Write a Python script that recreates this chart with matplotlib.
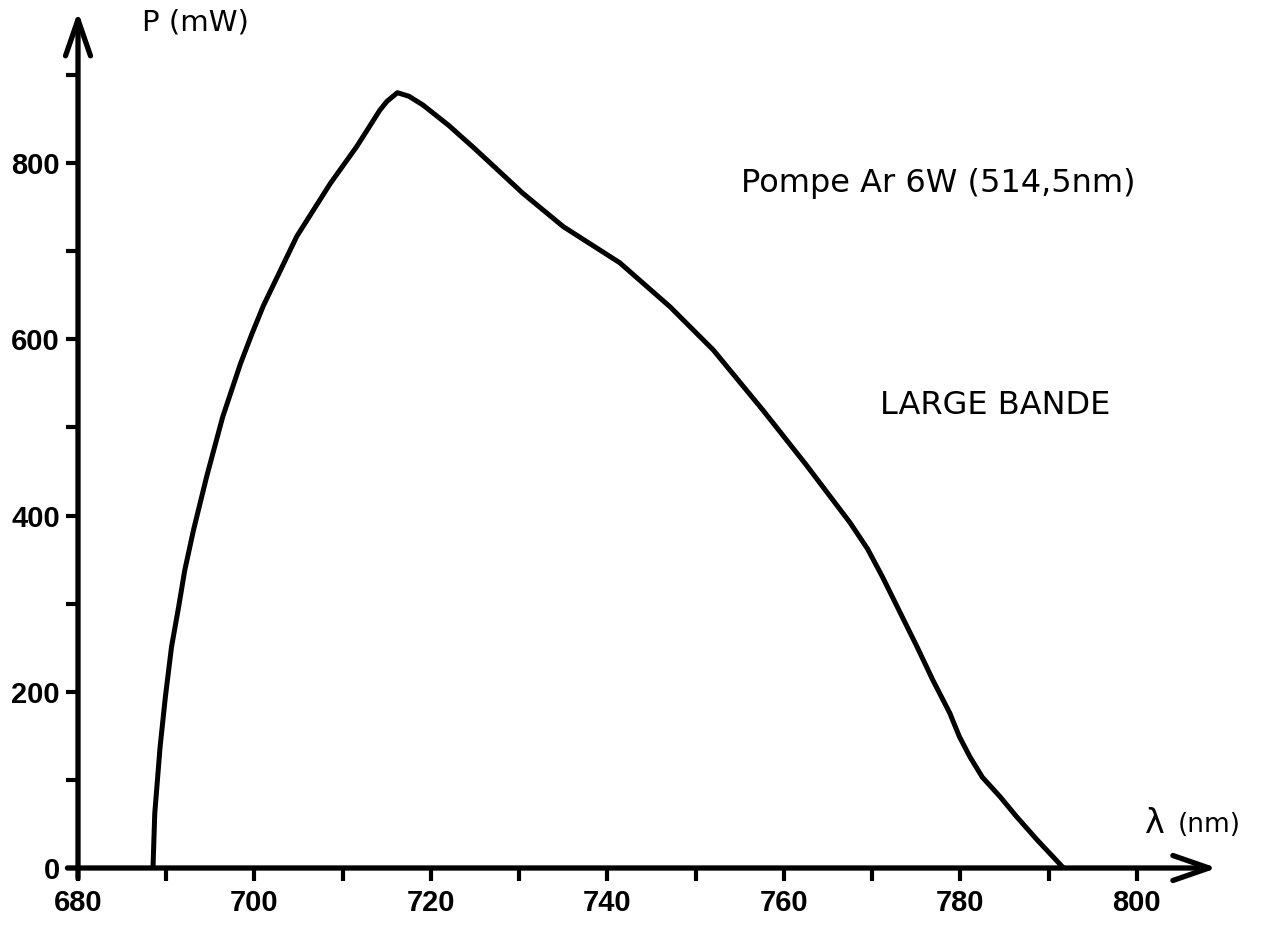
import matplotlib.pyplot as plt
import numpy as np

# wavelength (nm) and output power (mW)
wavelength = [688.5, 688.7, 689.3, 689.9, 690.6, 691.4, 692.1, 693.1, 694.6, 696.4,
              698.4, 699.7, 701.0, 704.8, 708.6, 711.6, 714.2, 715.0, 716.2, 717.5,
              719.1, 722.0, 724.8, 727.5, 730.4, 735.0, 741.4, 747.1, 752.0, 757.6,
              762.5, 767.5, 769.5, 771.2, 775.1, 776.9, 778.8, 779.9, 781.1, 782.5,
              784.5, 786.4, 788.7, 791.7]
power = [0, 62, 137, 194, 251, 296, 338, 384, 445, 512,
         572, 606, 638, 717, 777, 819, 860, 870, 880, 876,
         866, 843, 818, 793, 766, 728, 687, 637, 588, 520,
         458, 392, 362, 330, 251, 213, 176, 149, 126, 103,
         81, 58, 32, 0]

xticks_major = [680, 700, 720, 740, 760, 780, 800]
xticks_minor = [690, 710, 730, 750, 770, 790]
yticks_major = [0, 200, 400, 600, 800]
yticks_minor = [100, 300, 500, 700, 900]

plt.rcParams['font.family'] = ['Liberation Sans', 'DejaVu Sans']

fig = plt.figure(figsize=(12.85, 9.26), dpi=100)
ax = fig.add_axes([78 / 1285, 58 / 926, 1147 / 1285, 859 / 926])
ax.set_xlim(680, 810)
ax.set_ylim(0, 975)

for s in ax.spines.values():
    s.set_visible(False)

ax.plot(wavelength, power, color='black', lw=3.6, solid_capstyle='round',
        solid_joinstyle='round')

# axes drawn as arrows
arrow = dict(arrowstyle='->,head_length=2.6,head_width=0.9', lw=3.8,
             color='black', shrinkA=0, shrinkB=0)
ax.annotate('', xy=(809.1, 0), xytext=(678.8, 0), annotation_clip=False,
            arrowprops=arrow)
ax.annotate('', xy=(680, 972), xytext=(680, -12), annotation_clip=False,
            arrowprops=arrow)

ax.set_xticks(xticks_major)
ax.set_xticks(xticks_minor, minor=True)
ax.set_yticks(yticks_major)
ax.set_yticks(yticks_minor, minor=True)
ax.tick_params(axis='both', which='both', direction='out', width=3, color='black')
ax.tick_params(axis='x', which='both', length=9, pad=6)
ax.tick_params(axis='y', which='both', length=9, pad=4)
ax.set_xticklabels([str(v) for v in xticks_major], fontsize=21, fontweight='bold')
ax.set_yticklabels([str(v) for v in yticks_major], fontsize=21, fontweight='bold')

lab = dict(va='center', ha='left', family=['DejaVu Sans'])
ax.text(687.3, 960, 'P (mW)', fontsize=21, **lab)
ax.text(800.9, 50, 'λ', fontsize=24, **lab)
ax.text(804.7, 49, '(nm)', fontsize=19, **lab)
ax.text(755.2, 777, 'Pompe Ar 6W (514,5nm)', fontsize=23, **lab)
ax.text(770.9, 525, 'LARGE BANDE', fontsize=23, **lab)

fig.savefig('out.png', dpi=100)
